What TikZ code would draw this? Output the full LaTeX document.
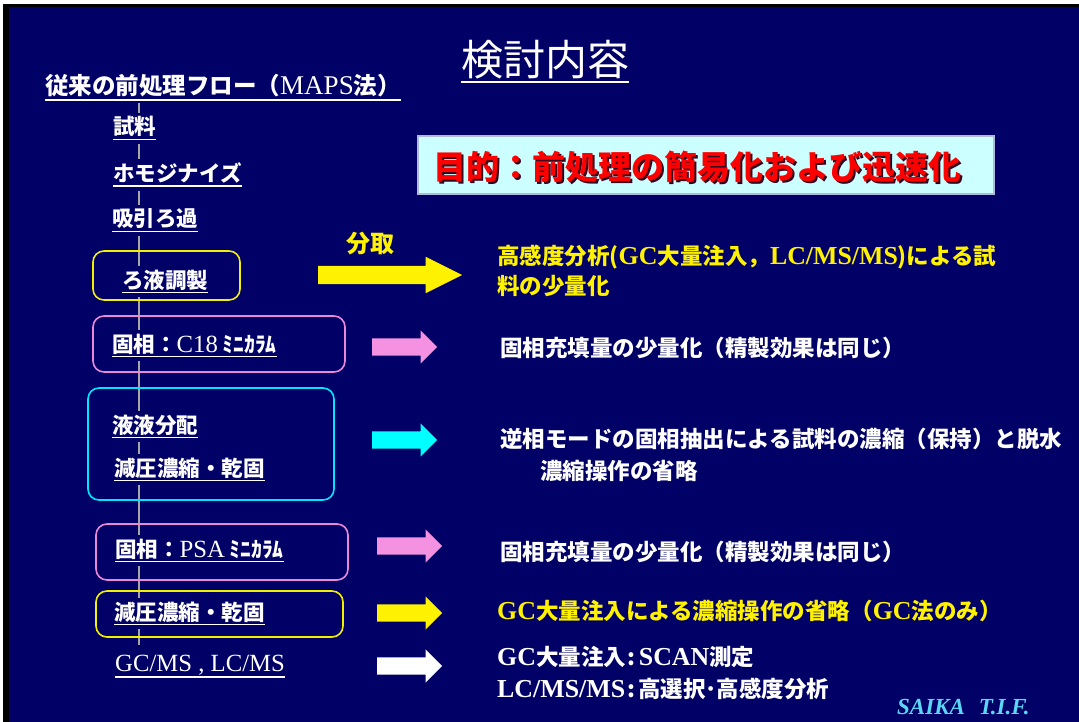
\documentclass[tikz,border=0pt]{standalone}
\usepackage{fontspec}
\usetikzlibrary{positioning,shapes.arrows}
\newfontfamily\jp{Noto Sans CJK JP}
\newfontfamily\tm[Scale=1.15]{Liberation Serif}
\definecolor{navy}{RGB}{0,0,102}
\definecolor{boxyellow}{RGB}{240,240,0}
\definecolor{boxpink}{RGB}{235,135,215}
\definecolor{boxcyan}{RGB}{0,230,255}
\definecolor{arrowpink}{RGB}{245,145,225}
\definecolor{arrowcyan}{RGB}{0,255,255}
\definecolor{lightcyan}{RGB}{204,255,255}
\definecolor{purposered}{RGB}{255,0,0}
\definecolor{shadowred}{RGB}{50,0,30}
\definecolor{saika}{RGB}{90,215,245}
\newcommand\ulx[1]{\leavevmode\vtop{\hbox{#1}\kern1.5pt\hrule height 1.6pt}}
\newcommand\shaft[1]{\vrule height #1 depth #1 width 0pt}
\newcommand\ncolon{\hspace{2pt}:\hspace{3pt}}
\tikzset{
flowitem/.style = {anchor=base west, fill=navy, inner xsep=0pt, inner ysep=4pt, text=white,
  font=\fontsize{21.5}{24}\selectfont\jp\bfseries},
flowbox/.style = {draw=#1, line width=1.6pt, rounded corners=11pt},
flowline/.style = {draw=gray!70, line width=1.4pt},
note/.style = {anchor=base west, inner sep=0pt, text=white,
  font=\fontsize{22.5}{26}\selectfont\jp\bfseries},
fatarrow/.style = {single arrow, fill=#1, draw=none, inner sep=0pt,
  single arrow head extend=8pt, minimum height=65pt, anchor=west}
}
\begin{document}
\begin{tikzpicture}[x=1pt,y=-1pt]
\useasboundingbox (0,0) rectangle (1079,722);
% frame
\fill[white] (0,0) rectangle (1079,722);
\fill[black] (3,4) rectangle (1079,722);
\fill[navy] (9,7) rectangle (1079,722);

% title
\node[anchor=base, inner sep=0pt, text=white, font=\fontsize{42}{46}\selectfont\jp] (title)
  at (545,76) {\ulx{検討内容}};
\node[anchor=base west, inner sep=0pt, text=white, font=\fontsize{23.5}{26}\selectfont\jp\bfseries] (hdr)
  at (45,95) {\ulx{従来の前処理フロー（{\tm\mdseries MAPS}法）}};

% flow line behind the steps
\coordinate (ltop) at (139,103);
\coordinate (lbot) at (139,645);
\draw[flowline] (ltop) -- (lbot);

% boxes
\draw[flowbox=boxyellow] (93,251) rectangle (240,300);
\draw[flowbox=boxpink] (93,316) rectangle (345,372);
\draw[flowbox=boxcyan] (88,388) rectangle (334,500);
\draw[flowbox=boxpink] (96,524) rectangle (348,580);
\draw[flowbox=boxyellow] (96,591) rectangle (343,637);

% steps
\node[flowitem] (sample) at (113,135) {\ulx{試料}};
\node[flowitem] (homog) at (113,182) {\ulx{ホモジナイズ}};
\node[flowitem] (suction) at (112,227) {\ulx{吸引ろ過}};
\node[flowitem] (filtrate) at (122,288) {\ulx{ろ液調製}};
\node[flowitem] (cstep) at (112,352) {\ulx{固相：{\tm\mdseries C18} ﾐﾆｶﾗﾑ}};
\node[flowitem] (llpart) at (112,433) {\ulx{液液分配}};
\node[flowitem] (evapa) at (114,476) {\ulx{減圧濃縮・乾固}};
\node[flowitem] (psastep) at (115,557) {\ulx{固相：{\tm\mdseries PSA} ﾐﾆｶﾗﾑ}};
\node[flowitem] (evapb) at (114,620) {\ulx{減圧濃縮・乾固}};
\node[flowitem] (gcms) at (115,671) {\ulx{\tm\mdseries GC/MS , LC/MS}};

% purpose
\draw[draw={rgb,255:red,175;green,185;blue,220}, fill=lightcyan, line width=1.8pt] (418,136) rectangle (994,194);
\node[anchor=base west, inner sep=0pt, text=shadowred, font=\fontsize{33}{36}\selectfont\jp\bfseries] (purposeshadow)
  at (435,182) {目的：前処理の簡易化および迅速化};
\node[anchor=base west, inner sep=0pt, text=purposered, font=\fontsize{33}{36}\selectfont\jp\bfseries] (purpose)
  at (433,180) {目的：前処理の簡易化および迅速化};

% arrows
\node[note, text=yellow, font=\fontsize{24}{26}\selectfont\jp\bfseries] (split) at (346,252) {分取};
\node[fatarrow=yellow, minimum height=144pt, single arrow head extend=9pt,
  single arrow tip angle=53] (arrsplit) at (318,275) {\shaft{9pt}};
\node[fatarrow=arrowpink] (arrc) at (372,347) {\shaft{8.5pt}};
\node[fatarrow=arrowcyan] (arrll) at (372,440) {\shaft{8.5pt}};
\node[fatarrow=arrowpink] (arrpsa) at (377,546) {\shaft{8.5pt}};
\node[fatarrow=yellow] (arrevap) at (377,613) {\shaft{8.5pt}};
\node[fatarrow=white] (arrgc) at (377,666) {\shaft{8.5pt}};

% notes
\node[note, text=yellow] (sens1) at (497,264) {高感度分析({\tm GC}大量注入，{\tm LC/MS/MS})による試};
\node[note, text=yellow] (sens2) at (497,294) {料の少量化};
\node[note] (less1) at (500,356) {固相充填量の少量化（精製効果は同じ）};
\node[note] (rev1) at (500,447) {逆相モードの固相抽出による試料の濃縮（保持）と脱水};
\node[note] (rev2) at (540,479) {濃縮操作の省略};
\node[note] (less2) at (500,560) {固相充填量の少量化（精製効果は同じ）};
\node[note, text=yellow] (gcinj) at (497,619) {{\tm GC}大量注入による濃縮操作の省略（{\tm GC}法のみ）};
\node[note] (scan) at (497,665) {{\tm GC}大量注入\ncolon{\tm SCAN}測定};
\node[note] (lcms) at (497,697) {{\tm LC/MS/MS}\ncolon 高選択･高感度分析};

\node[anchor=base west, inner sep=0pt, text=saika, font=\fontsize{20}{22}\selectfont\tm\bfseries\itshape] (saika)
  at (897,714) {SAIKA\hspace{14pt}T.I.F.};
\end{tikzpicture}
\end{document}
